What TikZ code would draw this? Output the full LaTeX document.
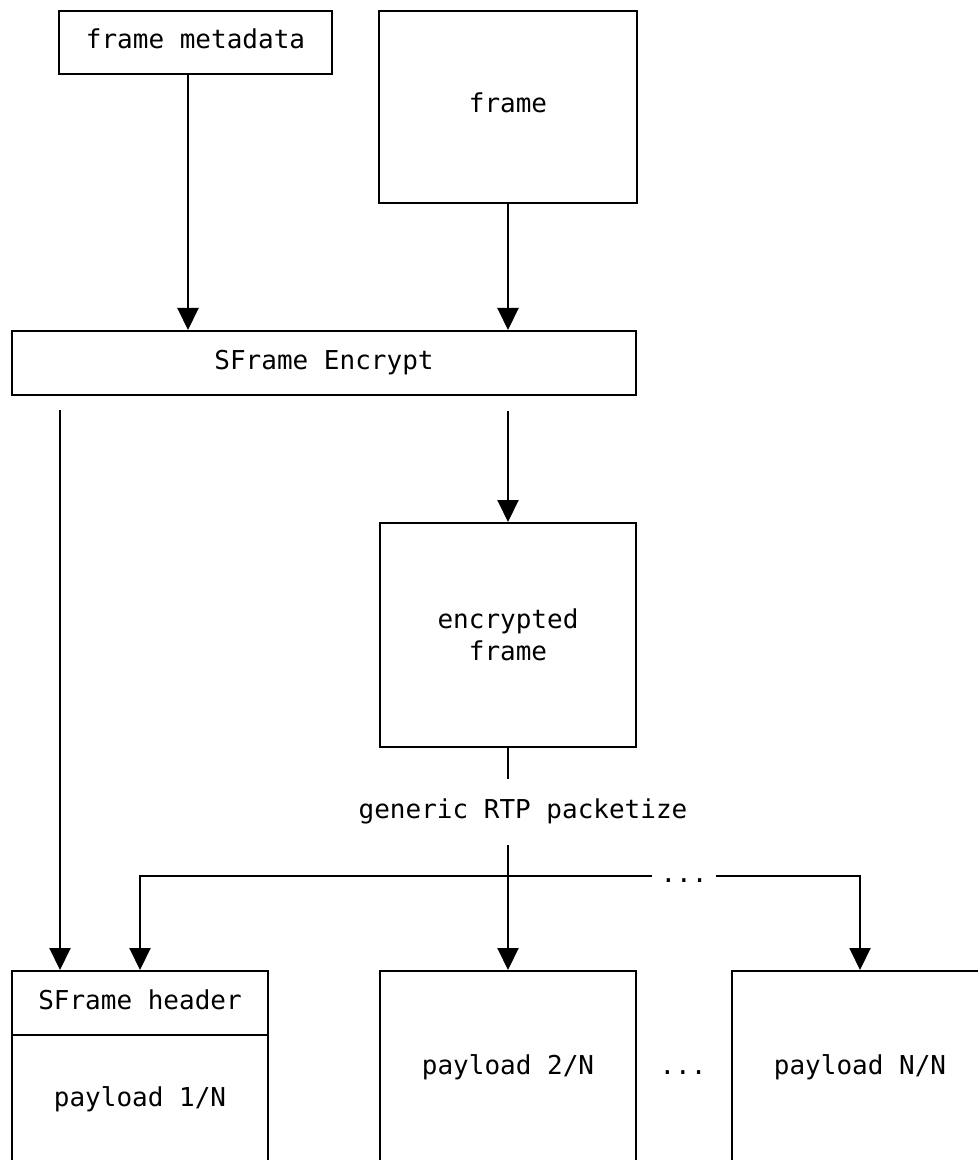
\documentclass[tikz,border=0pt]{standalone}
\usepackage{fontspec}
\setmonofont{DejaVu Sans Mono}
\usetikzlibrary{arrows.meta}

\begin{document}
\begin{tikzpicture}[x=0.5pt,y=-0.5pt,line width=1pt,
    every node/.style={font=\ttfamily\fontsize{13}{16}\selectfont,text height=0.8em,text depth=0.2em},
    box/.style={draw,inner sep=0pt,minimum width=128pt},
    flow/.style={-{Triangle[width=10.5pt,length=11pt]}}]
    \useasboundingbox (0,0) rectangle (978,1160);
    \clip (0,0) rectangle (978,1160);
    \node[box,minimum width=136.5pt,minimum height=31.5pt] (meta) at (195.5,42.5) {frame metadata};
    \node[box,minimum width=129pt,minimum height=96pt] (frame) at (508,107) {frame};
    \node[box,minimum width=312pt,minimum height=32pt] (enc) at (324,363) {SFrame Encrypt};
    \node[box,minimum height=112pt,align=center,text height=,text depth=] (encf) at (508,635) {encrypted\\frame};
    \node[minimum height=32pt,inner sep=0pt] (pkt) at (523,812) {generic RTP packetize};
    \node[inner xsep=4pt] (dots) at (684,876) {...};
    \node[box,minimum height=32pt] (hdr) at (140,1003) {SFrame header};
    \node[box,minimum height=65pt] (pl1) at (140,1100) {payload 1/N};
    \node[box,minimum height=97pt] (pl2) at (508,1068) {payload 2/N};
    \node (gap) at (683,1068) {...};
    \node[box,minimum height=97pt] (plN) at (860,1068) {payload N/N};
    \coordinate (lane) at (60,410);
    \draw[flow] ([xshift=-3.75pt]meta.south) -- ([xshift=-3.75pt]meta.south |- enc.north);
    \draw[flow] (frame) -- (frame |- enc.north);
    \draw[flow] (lane) -- (lane |- hdr.north);
    \draw[flow] ([yshift=-7.5pt]enc.south -| encf.north) -- (encf.north);
    \draw (encf.south) -- (encf.south |- pkt.north);
    \draw[flow] (dots.west) -| (hdr.north);
    \draw[flow] (dots.east) -| (plN.north);
    \draw[flow] (pkt.south -| pl2.north) -- (pl2.north);
\end{tikzpicture}
\end{document}
